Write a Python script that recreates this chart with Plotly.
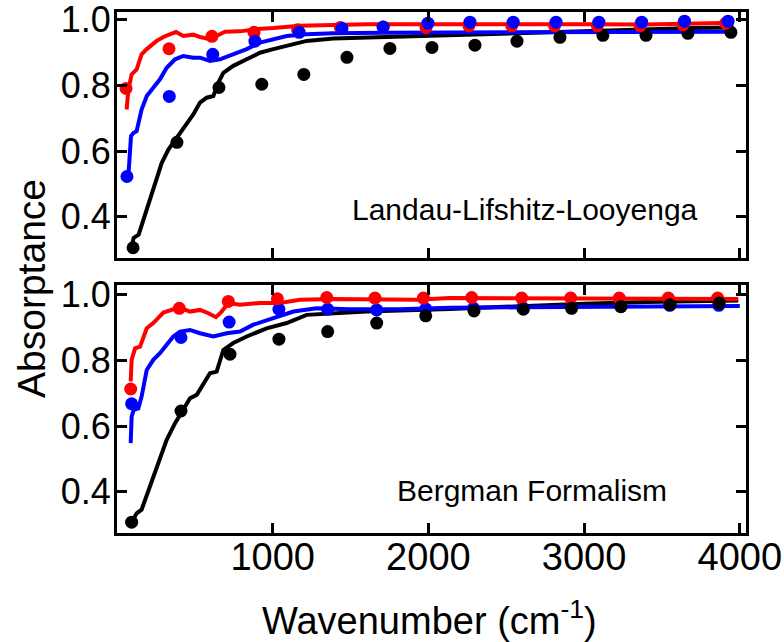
import plotly.graph_objects as go

# ---------------- Landau-Lifshitz-Looyenga panel ----------------
lll_black_line_x = [94, 107, 139, 182, 233, 287, 330, 383, 447, 490, 533, 576, 619, 651, 683,
                    747, 833, 918, 1004, 1090, 1218, 1389, 1603, 2139, 2600, 3000, 3400, 3700, 3960]
lll_black_line_y = [0.31, 0.336, 0.346, 0.412, 0.483, 0.564, 0.605, 0.641, 0.687, 0.712, 0.748, 0.763,
                    0.768, 0.809, 0.839, 0.86, 0.88, 0.9, 0.911, 0.921, 0.936, 0.943, 0.946, 0.953,
                    0.962, 0.968, 0.972, 0.975, 0.977]

lll_blue_line_x = [73, 81, 90, 107, 126, 158, 191, 233, 276, 319, 373, 426, 490, 533, 597, 661,
                   747, 833, 918, 1004, 1090, 1218, 1389, 1710, 2139, 2600, 3000, 3400, 3700, 3960]
lll_blue_line_y = [0.524, 0.585, 0.646, 0.656, 0.661, 0.727, 0.768, 0.793, 0.819, 0.854, 0.88, 0.89,
                   0.885, 0.885, 0.875, 0.88, 0.895, 0.911, 0.931, 0.941, 0.951, 0.956, 0.959, 0.961,
                   0.962, 0.963, 0.964, 0.962, 0.963, 0.964]

lll_red_line_x = [62, 73, 94, 126, 158, 191, 255, 298, 351, 379, 426, 490, 533, 597, 651, 694,
                  790, 897, 1004, 1175, 1603, 2139, 2600, 3000, 3400, 3700, 3960]
lll_red_line_y = [0.727, 0.788, 0.834, 0.849, 0.895, 0.911, 0.936, 0.948, 0.958, 0.963, 0.951, 0.955,
                  0.948, 0.941, 0.954, 0.964, 0.965, 0.972, 0.975, 0.982, 0.987, 0.988, 0.987, 0.987,
                  0.986, 0.988, 0.991]

lll_black_pts_x = [103, 385, 655, 930, 1200, 1477, 1753, 2023, 2299, 2569, 2845, 3121, 3398, 3667, 3943]
lll_black_pts_y = [0.306, 0.627, 0.794, 0.804, 0.834, 0.886, 0.913, 0.916, 0.923, 0.935, 0.947, 0.953,
                   0.953, 0.959, 0.962]

lll_red_pts_x = [58, 334, 610, 880, 1160, 1435, 1710, 1985, 2260, 2535, 2810, 3085, 3360, 3635, 3910]
lll_red_pts_y = [0.791, 0.912, 0.95, 0.962, 0.97, 0.977, 0.978, 0.977, 0.982, 0.982, 0.982, 0.982,
                 0.982, 0.985, 0.99]

lll_blue_pts_x = [64, 336, 615, 886, 1170, 1445, 1709, 1997, 2267, 2545, 2820, 3095, 3370, 3645, 3925]
lll_blue_pts_y = [0.523, 0.767, 0.895, 0.935, 0.962, 0.974, 0.978, 0.99, 0.993, 0.993, 0.993, 0.993,
                  0.993, 0.996, 0.996]

# ---------------- Bergman formalism panel ----------------
berg_black_line_x = [94, 126, 158, 212, 265, 319, 373, 426, 469, 512, 555, 597, 640, 683, 747, 833,
                     961, 1090, 1218, 1389, 1603, 2139, 2600, 3000, 3400, 3700, 3990]
berg_black_line_y = [0.307, 0.334, 0.345, 0.416, 0.487, 0.558, 0.609, 0.649, 0.685, 0.695, 0.726,
                     0.761, 0.766, 0.832, 0.853, 0.873, 0.898, 0.914, 0.939, 0.944, 0.949, 0.957,
                     0.966, 0.973, 0.978, 0.981, 0.983]

berg_blue_line_x = [88, 94, 107, 137, 158, 191, 233, 276, 319, 362, 405, 469, 533, 619, 705, 790,
                    876, 1004, 1133, 1282, 1496, 1817, 2139, 2600, 3000, 3400, 3700, 4000]
berg_blue_line_y = [0.548, 0.629, 0.649, 0.654, 0.69, 0.771, 0.802, 0.822, 0.848, 0.873, 0.888,
                    0.893, 0.883, 0.873, 0.883, 0.888, 0.909, 0.929, 0.949, 0.959, 0.956, 0.956,
                    0.961, 0.962, 0.964, 0.963, 0.965, 0.966]

berg_red_line_x = [88, 94, 116, 148, 191, 233, 298, 351, 400, 469, 533, 587, 636, 672, 715, 790,
                   918, 1047, 1175, 1389, 1710, 1924, 2139, 2600, 3000, 3400, 3700, 3990]
berg_red_line_y = [0.736, 0.802, 0.837, 0.842, 0.898, 0.914, 0.946, 0.954, 0.962, 0.949, 0.954,
                   0.944, 0.932, 0.949, 0.975, 0.97, 0.975, 0.975, 0.985, 0.987, 0.987, 0.985,
                   0.99, 0.989, 0.988, 0.988, 0.988, 0.987]

berg_black_pts_x = [94, 411, 726, 1040, 1353, 1668, 1983, 2293, 2610, 2920, 3237, 3552, 3868]
berg_black_pts_y = [0.307, 0.646, 0.819, 0.865, 0.888, 0.914, 0.936, 0.951, 0.956, 0.959, 0.964,
                    0.97, 0.975]

berg_red_pts_x = [88, 400, 715, 1030, 1347, 1657, 1968, 2278, 2599, 2914, 3226, 3541, 3858]
berg_red_pts_y = [0.713, 0.959, 0.98, 0.988, 0.992, 0.99, 0.99, 0.992, 0.99, 0.99, 0.99, 0.99, 0.99]

berg_blue_pts_x = [94, 411, 720, 1040, 1353, 1668, 1983, 2290, 2605, 2920, 3235, 3550, 3865]
berg_blue_pts_y = [0.668, 0.87, 0.917, 0.956, 0.956, 0.954, 0.957, 0.959, 0.961, 0.963, 0.965,
                   0.968, 0.968]

x_ticks = [1000, 2000, 3000, 4000]
y_ticks = [0.4, 0.6, 0.8, 1.0]

RED = "#ff0000"
BLUE = "#0000ff"
BLACK = "#000000"
FONT = "Liberation Sans, Arial, Helvetica, sans-serif"

fig = go.Figure()


def add_panel(xa, ya, lines, points):
    for (xs, ys, c) in lines:
        fig.add_trace(go.Scatter(x=xs, y=ys, mode="lines", line=dict(color=c, width=4),
                                 xaxis=xa, yaxis=ya, showlegend=False, hoverinfo="skip"))
    for (xs, ys, c) in points:
        fig.add_trace(go.Scatter(x=xs, y=ys, mode="markers", marker=dict(color=c, size=13),
                                 xaxis=xa, yaxis=ya, showlegend=False, hoverinfo="skip"))


add_panel("x", "y",
          [(lll_black_line_x, lll_black_line_y, BLACK),
           (lll_blue_line_x, lll_blue_line_y, BLUE),
           (lll_red_line_x, lll_red_line_y, RED)],
          [(lll_black_pts_x, lll_black_pts_y, BLACK),
           (lll_red_pts_x, lll_red_pts_y, RED),
           (lll_blue_pts_x, lll_blue_pts_y, BLUE)])

add_panel("x2", "y2",
          [(berg_black_line_x, berg_black_line_y, BLACK),
           (berg_blue_line_x, berg_blue_line_y, BLUE),
           (berg_red_line_x, berg_red_line_y, RED)],
          [(berg_blue_pts_x, berg_blue_pts_y, BLUE),
           (berg_red_pts_x, berg_red_pts_y, RED),
           (berg_black_pts_x, berg_black_pts_y, BLACK)])

axis_common = dict(showline=True, linecolor="black", linewidth=3, mirror="ticks",
                   ticks="inside", ticklen=10, tickwidth=2.5, tickcolor="black",
                   showgrid=False, zeroline=False, automargin=False,
                   ticklabeloverflow="allow")

fig.update_layout(
    width=784, height=642,
    margin=dict(l=117, r=38, t=12, b=109),
    paper_bgcolor="white", plot_bgcolor="white",
    font=dict(family=FONT, color="black"),
    xaxis=dict(domain=[0, 1], anchor="y", range=[0, 4040], tickvals=x_ticks,
               showticklabels=False, **axis_common),
    yaxis=dict(domain=[0.528, 1.0], anchor="x", range=[0.275, 1.024], tickvals=y_ticks,
               tickformat=".1f", tickfont=dict(size=36), ticklabelstandoff=-4, **axis_common),
    xaxis2=dict(domain=[0, 1], anchor="y2", range=[0, 4040], tickvals=x_ticks,
                tickfont=dict(size=38), ticklabelstandoff=-12, **axis_common),
    yaxis2=dict(domain=[0, 0.476], anchor="x2", range=[0.274, 1.03], tickvals=y_ticks,
                tickformat=".1f", tickfont=dict(size=36), ticklabelstandoff=-4, **axis_common),
    annotations=[
        dict(text="Absorptance", xref="paper", yref="paper", x=-0.137, y=0.47,
             textangle=-90, showarrow=False, xanchor="center", yanchor="middle",
             font=dict(size=39)),
        dict(text="Wavenumber (cm<sup>-1</sup>)", xref="paper", yref="paper", x=0.4976, y=-0.164,
             showarrow=False, xanchor="center", yanchor="middle", font=dict(size=38)),
        dict(text="Landau-Lifshitz-Looyenga", xref="paper", yref="paper", x=0.648, y=0.62,
             showarrow=False, xanchor="center", yanchor="middle", font=dict(size=30)),
        dict(text="Bergman Formalism", xref="paper", yref="paper", x=0.66, y=0.0825,
             showarrow=False, xanchor="center", yanchor="middle", font=dict(size=30)),
    ],
)

fig.write_html("out.html")
